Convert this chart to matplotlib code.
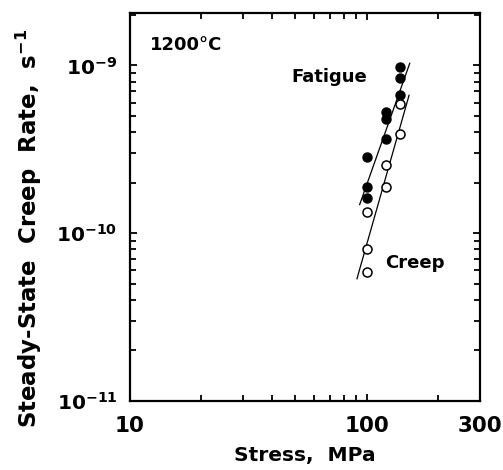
import numpy as np
import matplotlib
matplotlib.use('Agg')
import matplotlib.pyplot as plt
from matplotlib.ticker import FixedLocator, LogLocator, NullFormatter

# fatigue data (filled) and creep data (open), 1200 C
fatigue_stress = [100, 100, 100, 120, 120, 120, 138, 138, 138]
fatigue_rate = [2.84e-10, 1.88e-10, 1.61e-10, 5.3e-10, 4.8e-10, 3.65e-10, 9.8e-10, 8.4e-10, 6.7e-10]
creep_stress = [138, 138, 120, 120, 100, 100, 100]
creep_rate = [5.9e-10, 3.9e-10, 2.55e-10, 1.88e-10, 1.34e-10, 8.1e-11, 5.9e-11]

# fitted lines (end points)
fatigue_fit_x = [93.3, 151.8]
fatigue_fit_y = [1.48e-10, 1.03e-9]
creep_fit_x = [90.9, 150.8]
creep_fit_y = [5.35e-11, 6.64e-10]

xticks = [10, 100, 300]
xticklabels = ['10', '100', '300']
yticks = [1e-11, 1e-10, 1e-9]
yticklabels = [r'$\mathbf{10^{-11}}$', r'$\mathbf{10^{-10}}$', r'$\mathbf{10^{-9}}$']

plt.rcParams['font.family'] = ['DejaVu Sans']
plt.rcParams['font.weight'] = 'bold'
plt.rcParams['mathtext.default'] = 'bf'

fig = plt.figure(figsize=(5.03, 4.7), dpi=100)
ax = fig.add_axes([0.258, 0.147, 0.696, 0.825])

ax.plot(fatigue_fit_x, fatigue_fit_y, color='black', lw=0.9)
ax.plot(creep_fit_x, creep_fit_y, color='black', lw=0.9)
ax.plot(fatigue_stress, fatigue_rate, 'o', color='black', ms=6.5, zorder=3)
ax.plot(creep_stress, creep_rate, 'o', mfc='white', mec='black', mew=1.1, ms=6.5, zorder=3)

ax.set_xscale('log')
ax.set_yscale('log')
ax.set_xlim(10, 300)
ax.set_ylim(1e-11, 2.05e-9)

ax.xaxis.set_major_locator(FixedLocator(xticks))
ax.set_xticklabels(xticklabels)
ax.xaxis.set_minor_locator(LogLocator(base=10, subs=np.arange(2, 10)))
ax.xaxis.set_minor_formatter(NullFormatter())
ax.yaxis.set_major_locator(FixedLocator(yticks))
ax.set_yticklabels(yticklabels)
ax.yaxis.set_minor_locator(LogLocator(base=10, subs=np.arange(2, 10)))
ax.yaxis.set_minor_formatter(NullFormatter())

ax.tick_params(which='both', direction='in', top=True, right=True, width=1.3)
ax.tick_params(which='major', length=5)
ax.tick_params(which='minor', length=4)
ax.tick_params(axis='x', which='major', labelsize=15.5, pad=11)
ax.tick_params(axis='y', which='major', labelsize=14.5, pad=9)
for s in ax.spines.values():
    s.set_linewidth(1.6)

ax.set_xlabel('Stress,  MPa', fontsize=14.5, fontweight='bold', labelpad=7)
ax.set_ylabel('Steady-State  Creep  Rate,  s$^{-1}$', fontsize=16.5, fontweight='bold')
ax.yaxis.set_label_coords(-0.245, 0.445)

ax.text(0.057, 0.905, '1200\u00b0C', transform=ax.transAxes, fontsize=13, fontweight='bold', va='baseline')
ax.text(0.463, 0.822, 'Fatigue', transform=ax.transAxes, fontsize=13, fontweight='bold', va='baseline')
ax.text(0.729, 0.343, 'Creep', transform=ax.transAxes, fontsize=13, fontweight='bold', va='baseline')

fig.savefig('out.png', dpi=100)
